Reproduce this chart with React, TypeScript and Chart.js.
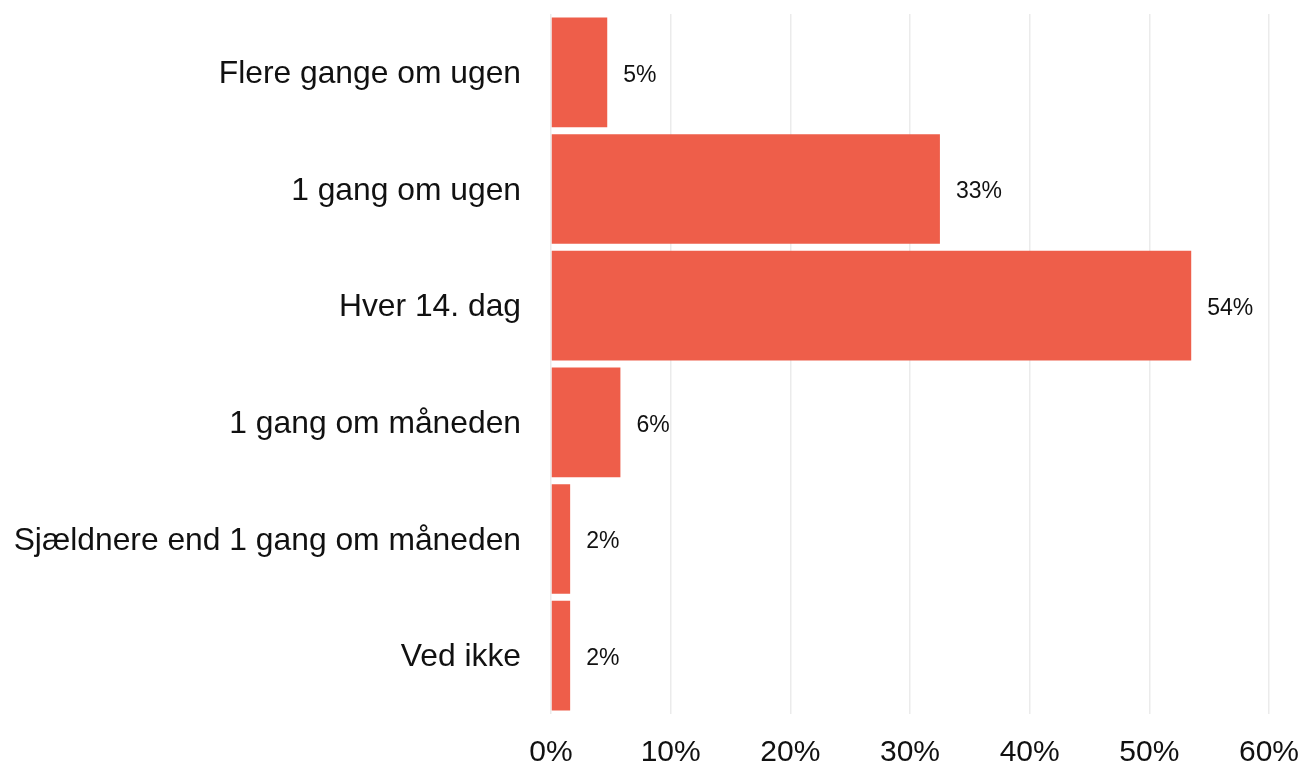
import React, { useEffect, useRef } from "react";
import { Chart, registerables } from "chart.js";

Chart.register(...registerables);

const categories = [
  "Flere gange om ugen",
  "1 gang om ugen",
  "Hver 14. dag",
  "1 gang om måneden",
  "Sjældnere end 1 gang om måneden",
  "Ved ikke",
];
const values = [4.7, 32.5, 53.5, 5.8, 1.6, 1.6];
const valueLabels = ["5%", "33%", "54%", "6%", "2%", "2%"];
const xTicks = [0, 10, 20, 30, 40, 50, 60];

const FONT = "'Liberation Sans', Arial, sans-serif";

const valueLabelPlugin = {
  id: "valueLabels",
  afterDatasetsDraw(chart: any) {
    const ctx = chart.ctx;
    const meta = chart.getDatasetMeta(0);
    ctx.save();
    ctx.font = `23px ${FONT}`;
    ctx.fillStyle = "#111111";
    ctx.textAlign = "left";
    ctx.textBaseline = "middle";
    meta.data.forEach((bar: any, i: number) => {
      ctx.fillText(valueLabels[i], bar.x + 16, bar.y + 3);
    });
    ctx.restore();
  },
};

export default function App() {
  const ref = useRef<HTMLCanvasElement | null>(null);
  useEffect(() => {
    document.body.style.margin = "0";
    const canvas = ref.current;
    if (!canvas) return;
    const chart = new Chart(canvas, {
      type: "bar",
      data: {
        labels: categories,
        datasets: [
          {
            data: values,
            backgroundColor: "#EE5E4A",
            borderWidth: 0,
            barPercentage: 0.94,
            categoryPercentage: 1,
          },
        ],
      },
      options: {
        indexAxis: "y",
        animation: false,
        responsive: false,
        maintainAspectRatio: false,
        layout: { padding: { top: 14, right: 36, left: 0, bottom: 0 } },
        plugins: {
          legend: { display: false },
          tooltip: { enabled: false },
        },
        scales: {
          x: {
            min: 0,
            max: 60,
            afterBuildTicks(scale: any) {
              scale.ticks = xTicks.map((v) => ({ value: v }));
            },
            afterFit(scale: any) {
              scale.height = 52;
            },
            border: { display: false },
            grid: {
              color: "#ebebeb",
              lineWidth: 1.5,
              drawTicks: true,
              tickLength: 27,
              tickColor: "transparent",
            },
            ticks: {
              padding: 0,
              color: "#111111",
              font: { family: FONT, size: 30, lineHeight: 0.8 },
              callback: (v: any) => `${v}%`,
              maxRotation: 0,
            },
          },
          y: {
            afterFit(scale: any) {
              scale.width = 551;
            },
            border: { display: false },
            grid: {
              display: true,
              drawOnChartArea: false,
              drawTicks: true,
              tickLength: 30,
              tickColor: "transparent",
              color: "transparent",
            },
            ticks: {
              padding: 0,
              labelOffset: 2,
              color: "#111111",
              font: { family: FONT, size: 31.8, lineHeight: 0.8 },
            },
          },
        },
      },
      plugins: [valueLabelPlugin],
    });
    return () => chart.destroy();
  }, []);
  return (
    <div style={{ position: "fixed", left: 0, top: 0, width: 1305, height: 766 }}>
      <canvas ref={ref} width={1305} height={766} style={{ width: 1305, height: 766 }} />
    </div>
  );
}
